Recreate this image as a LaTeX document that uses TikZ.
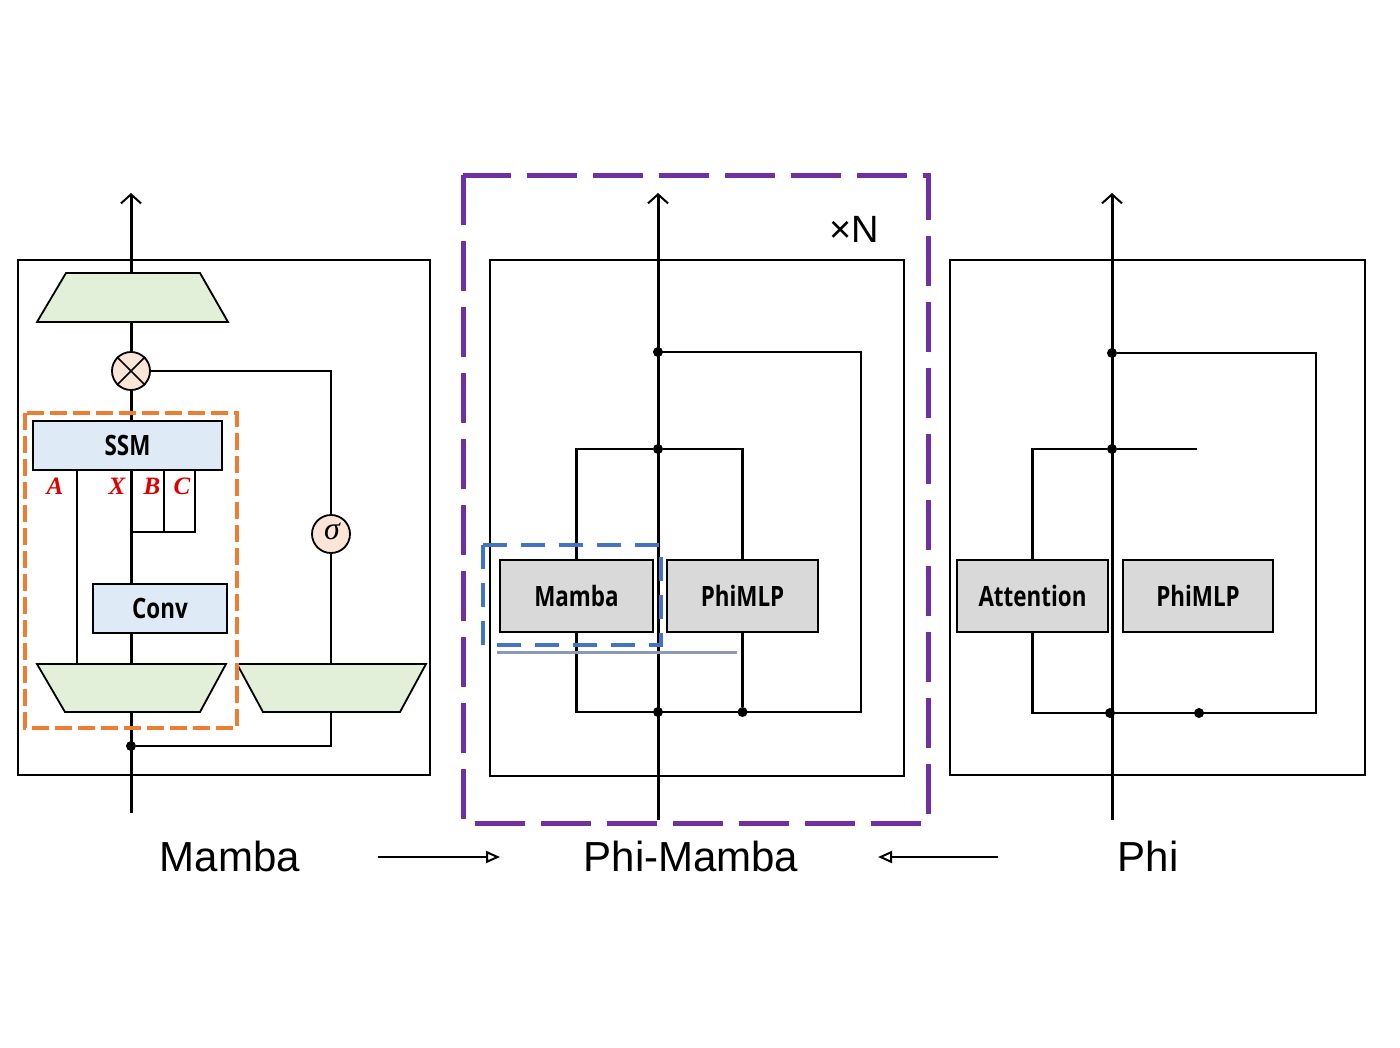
\documentclass[tikz,border=0pt]{standalone}
\usepackage{fontspec}
\setmainfont{Liberation Sans}
\newfontfamily\boxfont[FakeStretch=0.8]{Open Sans}
\newfontfamily\labfont{Liberation Serif}
\usetikzlibrary{arrows.meta,backgrounds}
\definecolor{trapgreen}{RGB}{226,240,217}
\definecolor{ssmblue}{RGB}{222,235,247}
\definecolor{boxgray}{RGB}{217,217,217}
\definecolor{peach}{RGB}{251,229,214}
\definecolor{dorange}{RGB}{237,125,49}
\definecolor{dpurple}{RGB}{112,48,160}
\definecolor{dblue}{RGB}{68,114,196}
\definecolor{faintln}{RGB}{140,155,178}
\definecolor{labred}{RGB}{220,0,0}
\begin{document}
\begin{tikzpicture}[x=1pt,y=-1pt,
  conn/.style={line width=2.4pt, line join=miter},
  mainln/.style={line width=3pt},
  uparrow/.style={-{Straight Barb[length=9pt,width=20pt,line width=2pt]}},
  capar/.style={line width=2pt,-{Triangle[open,length=14pt,width=12pt,line width=2pt]}},
  frame/.style={draw, line width=2.4pt},
  trap/.style={draw, line width=1.8pt, fill=trapgreen, line join=miter},
  bluebox/.style={draw, line width=1.6pt, fill=ssmblue, inner sep=0pt,
     font=\boxfont\bfseries\fontsize{28}{30}\selectfont},
  graybox/.style={draw, line width=1.8pt, fill=boxgray, inner sep=0pt,
     minimum width=152pt, minimum height=72pt,
     font=\boxfont\bfseries\fontsize{28}{30}\selectfont},
  opcirc/.style={draw, circle, line width=1.8pt, fill=peach, minimum size=38pt, inner sep=0pt},
  varlab/.style={text=labred, inner sep=0pt, font=\labfont\bfseries\itshape\fontsize{25}{25}\selectfont},
  caption/.style={inner sep=0pt, font=\fontsize{42}{44}\selectfont},
  dot/.style={circle, fill=black, inner sep=0pt, minimum size=10pt},
  orangedash/.style={draw=dorange, line width=4pt, dash pattern=on 17pt off 6pt},
  purpledash/.style={draw=dpurple, line width=5pt, dash pattern=on 50pt off 16pt},
  bluedash/.style={draw=dblue, line width=4pt, dash pattern=on 24pt off 14pt}
]
\useasboundingbox (0,0) rectangle (1400,1047);

% ================= Mamba (left) =================
\coordinate (Lbot) at (131,813);
\coordinate (Ltop) at (131,193);
\draw[frame] (18,260) rectangle (430,775);
% out projection
\path[trap] (37,322) -- (66,273) -- (200,273) -- (228,322) -- cycle;
\node[opcirc] (mul) at (131,371) {};
\draw[line width=1.6pt] (mul.north east) -- (mul.south west) (mul.north west) -- (mul.south east);
\node[bluebox, minimum width=189pt, minimum height=49pt] (ssm) at (127.5,445.5) {SSM};
\node[bluebox, minimum width=134pt, minimum height=49pt] (conv) at (160,608.5) {Conv};
% in projections
\path[trap] (37,664) -- (226,664) -- (200,712) -- (65,712) -- cycle;
\path[trap] (237,664) -- (426,664) -- (400,712) -- (263,712) -- cycle;
\coordinate (gtrapN) at (331,664);
\coordinate (gtrapS) at (331,712);
\node[opcirc] (sig) at (331,534) {};
\node[inner sep=0pt, font=\labfont\itshape\fontsize{32}{32}\selectfont] (sigtxt) at (332,531) {σ};
\node[dot] (Ldot) at (131,746) {};
\coordinate (Ax) at (77,664);
\coordinate (Bx) at (164,532);
\coordinate (Cx) at (195,532);
\node[varlab] (labA) at (55,486) {A};
\node[varlab] (labX) at (117,486) {X};
\node[varlab] (labB) at (152,486) {B};
\node[varlab] (labC) at (182,486) {C};
\draw[orangedash] (25,413) rectangle (237,728);
\node[caption] (capL) at (230,856) {Mamba};

% ================= Phi-Mamba (middle) =================
\coordinate (Mbot) at (658,820);
\coordinate (Mtop) at (658,193);
\draw[frame] (490,260) rectangle (904,776);
\node[graybox, minimum width=153pt] (mamba) at (576.5,596) {Mamba};
\node[graybox, minimum width=151pt] (mmlp) at (742.5,596) {PhiMLP};
\draw[bluedash] (483,545) rectangle (661,645);
\node[dot] (Md1) at (658,352) {};
\node[dot] (Md2) at (658,449) {};
\node[dot] (Md3) at (658,712) {};
\node[dot] (Md4) at (742.5,712) {};
\coordinate (Mr) at (861,712);
\coordinate (Mfa) at (497,652);
\coordinate (Mfb) at (737,652);
\draw[purpledash] (463,175) rectangle (928,823);
\node[inner sep=0pt, font=\fontsize{38}{38}\selectfont] (xN) at (854,229) {×N};
\node[caption] (capM) at (691,856) {Phi-Mamba};

% ================= Phi (right) =================
\coordinate (Rbot) at (1112,820);
\coordinate (Rtop) at (1112,193);
\draw[frame] (950,260) rectangle (1365,775);
\node[graybox, minimum width=151pt] (att) at (1032.5,596) {Attention};
\node[graybox, minimum width=150pt] (rmlp) at (1198,596) {PhiMLP};
\node[dot] (Rd1) at (1112,353) {};
\node[dot] (Rd2) at (1112,449) {};
\node[dot] (Rd3) at (1110,713) {};
\node[dot] (Rd4) at (1199,713) {};
\coordinate (Rc) at (1316,713);
\coordinate (Rend) at (1197,449);
\node[caption] (capR) at (1148,856) {Phi};

% caption arrows
\coordinate (a1s) at (378,857);
\coordinate (a1e) at (500,857);
\coordinate (a2s) at (998,857);
\coordinate (a2e) at (878,857);
\draw[capar] (a1s) -- (a1e);
\draw[capar] (a2s) -- (a2e);

\begin{pgfonlayer}{background}
\fill[white] (0,0) rectangle (1400,1047);
% left connectors
\draw[mainln, uparrow] (Lbot) -- (Ltop);
\draw[conn] (mul.east) -| (sig.north);
\draw[conn] (sig.south) -- (gtrapN);
\draw[conn] (gtrapS) |- (Ldot);
\draw[conn] (Ax |- ssm.south) -- (Ax);
\draw[conn] (Bx |- ssm.south) -- (Bx);
\draw[conn] (Cx |- ssm.south) -- (Cx) -- (Cx -| Lbot);
% middle connectors
\draw[mainln, uparrow] (Mbot) -- (Mtop);
\draw[conn] (Md1) -| (Mr) -- (mamba.south |- Mr) -- (mamba.south);
\draw[conn] (mamba.north) |- (Md2) -| (mmlp.north);
\draw[conn] (mmlp.south) -- (Md4);
\draw[draw=faintln, line width=3pt] (Mfa) -- (Mfb);
% right connectors
\draw[mainln, uparrow] (Rbot) -- (Rtop);
\draw[conn] (Rd1) -| (Rc) -- (att.south |- Rc) -- (att.south);
\draw[conn] (att.north) |- (Rd2) -- (Rend);
\end{pgfonlayer}
\end{tikzpicture}
\end{document}
